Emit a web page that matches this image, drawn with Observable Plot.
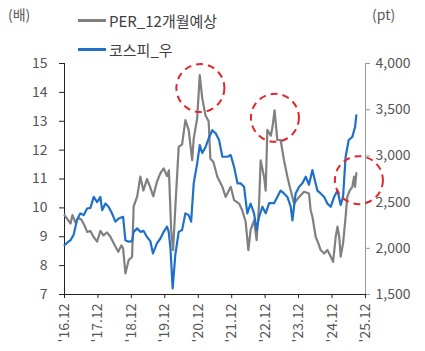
<!DOCTYPE html>
<html>
<head>
<meta charset="utf-8">
<script src="https://cdn.jsdelivr.net/npm/d3@7"></script>
<script src="https://cdn.jsdelivr.net/npm/@observablehq/plot@0.6"></script>
<style>
  html, body { margin: 0; padding: 0; background: #fff; }
  #wrap { position: relative; width: 425px; height: 351px; font-family: "Noto Sans CJK KR", "Noto Sans", sans-serif; color: #505050; }
  .lbl { position: absolute; font-size: 14px; line-height: 1; white-space: nowrap; color: #595959; }
  .leg { position: absolute; font-size: 15px; line-height: 1; white-space: nowrap; display: flex; align-items: center; color: #404040; }
  .leg .sw { display: inline-block; width: 28px; height: 2.5px; margin-right: 3px; }
</style>
</head>
<body>
<div id="wrap"></div>
<script>
// PER (12-month forward), left axis (배)
const perDates = ["2016-12-01","2017-01-03","2017-02-05","2017-02-26","2017-03-29","2017-05-01","2017-06-03","2017-07-06","2017-08-05","2017-09-10","2017-10-13","2017-11-22","2017-12-28","2018-01-30","2018-03-10","2018-04-16","2018-05-18","2018-06-20","2018-07-11","2018-08-14","2018-09-02","2018-09-27","2018-11-03","2018-12-09","2018-12-26","2019-02-03","2019-03-09","2019-04-11","2019-05-21","2019-06-26","2019-07-29","2019-09-06","2019-10-14","2019-11-19","2019-12-26","2020-01-15","2020-02-09","2020-03-01","2020-03-25","2020-05-01","2020-06-07","2020-07-13","2020-08-18","2020-09-25","2020-10-12","2020-11-19","2020-12-17","2021-01-13","2021-02-18","2021-03-24","2021-04-12","2021-05-14","2021-06-27","2021-08-21","2021-09-26","2021-11-20","2021-12-27","2022-02-20","2022-03-26","2022-05-02","2022-06-01","2022-06-25","2022-08-02","2022-08-30","2022-09-26","2022-10-13","2022-11-19","2022-12-07","2022-12-25","2023-02-01","2023-02-19","2023-03-14","2023-04-13","2023-05-19","2023-06-25","2023-08-01","2023-09-06","2023-10-13","2023-12-07","2024-01-31","2024-03-24","2024-04-11","2024-04-30","2024-06-05","2024-07-04","2024-07-29","2024-09-06","2024-10-11","2024-11-17","2024-12-12","2025-01-10","2025-01-29","2025-02-17","2025-03-05","2025-03-31","2025-04-28","2025-05-16","2025-06-11","2025-07-10","2025-07-29","2025-08-09","2025-08-23"];
const perValues = [9.75,9.6,9.46,9.75,9.5,9.65,9.6,9.4,9.17,9.2,9.0,8.83,9.2,9.05,9.15,9.0,8.8,8.6,8.48,8.7,8.6,7.73,8.2,8.3,10.04,10.4,11.08,10.6,11.0,10.7,10.4,10.9,11.2,11.37,11.1,11.3,9.23,8.54,10.0,12.11,12.2,13.04,12.7,11.65,12.4,13.1,14.6,13.8,13.2,13.0,11.7,11.6,11.08,10.73,10.38,10.73,10.27,10.15,9.92,9.52,8.54,9.23,9.57,8.88,10.15,11.65,11.08,10.6,12.7,12.5,12.8,13.38,12.35,12.35,11.65,11.08,10.6,10.15,10.38,10.56,10.5,9.92,9.7,9.0,8.77,8.54,8.42,8.54,8.31,8.13,9.0,9.35,9.0,8.31,8.77,9.7,10.38,10.6,10.73,11.08,10.73,11.2];

// KOSPI, right axis (pt)
const kospiDates = ["2016-12-01","2017-01-03","2017-02-05","2017-03-10","2017-04-17","2017-05-22","2017-06-28","2017-08-05","2017-09-10","2017-10-16","2017-11-22","2017-12-28","2018-01-16","2018-02-21","2018-03-27","2018-05-04","2018-06-09","2018-07-15","2018-09-02","2018-09-27","2018-11-03","2018-12-09","2018-12-26","2019-02-03","2019-03-09","2019-04-14","2019-05-21","2019-06-26","2019-07-25","2019-09-06","2019-10-14","2019-11-19","2019-12-26","2020-01-13","2020-02-01","2020-02-25","2020-03-25","2020-05-01","2020-06-07","2020-07-13","2020-08-18","2020-09-14","2020-10-12","2020-11-19","2020-12-17","2021-01-13","2021-02-18","2021-03-24","2021-05-03","2021-06-09","2021-07-16","2021-08-21","2021-10-15","2021-11-20","2021-12-27","2022-02-02","2022-03-08","2022-04-15","2022-05-20","2022-06-25","2022-08-02","2022-08-30","2022-09-26","2022-11-01","2022-12-07","2023-01-14","2023-03-08","2023-04-13","2023-05-19","2023-06-25","2023-08-01","2023-09-06","2023-09-25","2023-10-30","2023-12-07","2024-01-12","2024-02-17","2024-03-24","2024-04-30","2024-05-18","2024-06-23","2024-07-29","2024-09-06","2024-10-11","2024-11-17","2024-12-23","2025-01-29","2025-03-05","2025-03-31","2025-04-28","2025-06-01","2025-07-10","2025-08-09","2025-08-23"];
const kospiValues = [2034,2063,2088,2144,2306,2378,2359,2431,2438,2556,2500,2556,2413,2484,2450,2378,2288,2322,2341,2088,2072,2078,2178,2216,2178,2188,2122,2078,1944,2053,2106,2178,2234,2178,2000,1566,1928,2178,2197,2378,2359,2288,2703,2919,3116,3031,3094,3188,3278,3244,3172,2991,2991,3009,2881,2703,2703,2666,2378,2484,2378,2197,2341,2450,2378,2488,2488,2556,2625,2594,2556,2450,2303,2594,2666,2703,2775,2688,2847,2775,2625,2594,2556,2484,2450,2556,2625,2469,2556,2991,3172,3206,3313,3438];

// Highlight circles (date, PER level)
const circleDates = ["2020-12-24","2023-03-18","2025-09-20"];
const circleValues = [14.15, 13.12, 10.96];

const xTickDates = ["2016-12-01","2017-12-01","2018-12-01","2019-12-01","2020-12-01","2021-12-01","2022-12-01","2023-12-01","2024-12-01","2025-12-01"];
const xTickLabels = ["'16.12","'17.12","'18.12","'19.12","'20.12","'21.12","'22.12","'23.12","'24.12","'25.12"];
const leftTicks = [7,8,9,10,11,12,13,14,15];
const rightTicks = [1500,2000,2500,3000,3500,4000];

const series = ["PER_12개월예상", "코스피_우"];
const colors = ["#808080", "#1f70c8"];

const toLeft = pt => 7 + (pt - 1500) / 312.5;
const parse = d3.utcParse("%Y-%m-%d");

const per = perDates.map((d, i) => ({date: parse(d), v: perValues[i]}));
const kospi = kospiDates.map((d, i) => ({date: parse(d), v: toLeft(kospiValues[i])}));
const circles = circleDates.map((d, i) => ({date: parse(d), v: circleValues[i]}));
const xTicks = xTickDates.map(parse);
const labelOf = new Map(xTicks.map((d, i) => [+d, xTickLabels[i]]));

const font = "\"Noto Sans CJK KR\", \"Noto Sans\", sans-serif";

const chart = Plot.plot({
  width: 425,
  height: 351,
  marginLeft: 64,
  marginRight: 60,
  marginTop: 63,
  marginBottom: 57,
  style: {fontFamily: font, fontSize: "14px", color: "#555", background: "#fff", overflow: "visible"},
  x: {type: "utc", domain: [parse("2016-12-01"), parse("2025-12-01")]},
  y: {domain: [7, 15]},
  marks: [
    Plot.axisX(xTicks, {tickFormat: d => labelOf.get(+d), tickRotate: -90, tickSize: 4, tickPadding: 5, label: null, stroke: "#222", fontSize: 14}),
    Plot.axisY(leftTicks, {anchor: "left", tickSize: 5, tickPadding: 12, label: null, stroke: "#222", fontSize: 14}),
    Plot.axisY(rightTicks.map(toLeft), {anchor: "right", tickSize: 4, tickPadding: 6, label: null, stroke: "#999", fontSize: 14,
      tickFormat: d => d3.format(",")(Math.round(1500 + (d - 7) * 312.5))}),
    Plot.ruleX([parse("2016-12-01")], {stroke: "#222", strokeWidth: 1}),
    Plot.ruleX([parse("2025-12-01")], {stroke: "#999", strokeWidth: 1}),
    Plot.ruleY([7], {stroke: "#222", strokeWidth: 1}),
    Plot.lineY(per, {x: "date", y: "v", stroke: colors[0], strokeWidth: 2.2}),
    Plot.lineY(kospi, {x: "date", y: "v", stroke: colors[1], strokeWidth: 2.2}),
    Plot.dot(circles, {x: "date", y: "v", r: 24, stroke: "#e3262b", strokeWidth: 2, strokeDasharray: "7,5", fill: "none"})
  ]
});

const wrap = document.getElementById("wrap");
wrap.appendChild(chart);

function addLabel(text, left, top, cls) {
  const el = document.createElement("div");
  el.className = cls;
  el.style.left = left + "px";
  el.style.top = top + "px";
  el.textContent = text;
  wrap.appendChild(el);
  return el;
}
addLabel("(배)", 8, 7, "lbl");
addLabel("(pt)", 372, 7, "lbl");

series.forEach((name, i) => {
  const el = document.createElement("div");
  el.className = "leg";
  el.style.left = "78px";
  el.style.top = (i === 0 ? 13 : 42) + "px";
  const sw = document.createElement("span");
  sw.className = "sw";
  sw.style.background = colors[i];
  el.appendChild(sw);
  const t = document.createElement("span");
  t.textContent = name;
  el.appendChild(t);
  wrap.appendChild(el);
});
</script>
</body>
</html>
